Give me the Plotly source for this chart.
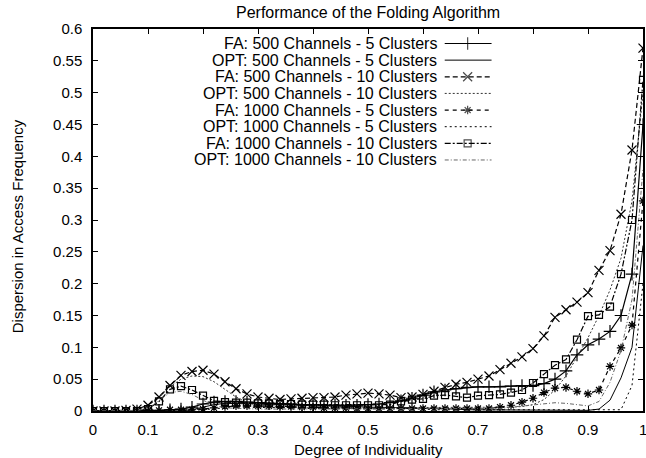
import plotly.graph_objects as go

# ---------------- data ----------------
x_vals = [0.00, 0.02, 0.04, 0.06, 0.08, 0.10, 0.12, 0.14, 0.16, 0.18,
          0.20, 0.22, 0.24, 0.26, 0.28, 0.30, 0.32, 0.34, 0.36, 0.38,
          0.40, 0.42, 0.44, 0.46, 0.48, 0.50, 0.52, 0.54, 0.56, 0.58,
          0.60, 0.62, 0.64, 0.66, 0.68, 0.70, 0.72, 0.74, 0.76, 0.78,
          0.80, 0.82, 0.84, 0.86, 0.88, 0.90, 0.92, 0.94, 0.96, 0.98, 1.00]

fa_500_5 = [0, 0, 0, 0, 0, 0.001, 0.001, 0.002, 0.003, 0.006,
            0.011, 0.014, 0.015, 0.015, 0.014, 0.013, 0.012, 0.011, 0.011, 0.010,
            0.010, 0.009, 0.009, 0.009, 0.009, 0.010, 0.011, 0.013, 0.016, 0.020,
            0.025, 0.030, 0.033, 0.035, 0.037, 0.038, 0.038, 0.038, 0.039, 0.040,
            0.040, 0.043, 0.050, 0.063, 0.088, 0.104, 0.113, 0.125, 0.150, 0.215, 0.450]

opt_500_5 = [0, 0, 0, 0, 0, 0, 0, 0, 0, 0.002,
             0.006, 0.010, 0.012, 0.012, 0.012, 0.011, 0.010, 0.010, 0.009, 0.009,
             0.008, 0.008, 0.007, 0.007, 0.007, 0.006, 0.006, 0.006, 0.005, 0.005,
             0.004, 0.004, 0.003, 0.003, 0.002, 0.002, 0.001, 0.001, 0.001, 0.001,
             0.001, 0.001, 0.001, 0.001, 0.001, 0.001, 0.003, 0.017, 0.052, 0.100, 0.260]

fa_500_10 = [0, 0, 0, 0.001, 0.003, 0.009, 0.022, 0.040, 0.056, 0.062,
             0.064, 0.058, 0.046, 0.035, 0.027, 0.022, 0.020, 0.018, 0.019, 0.020,
             0.021, 0.021, 0.022, 0.025, 0.027, 0.028, 0.027, 0.025, 0.021, 0.022,
             0.026, 0.031, 0.037, 0.042, 0.045, 0.050, 0.055, 0.065, 0.075, 0.085,
             0.098, 0.118, 0.147, 0.159, 0.171, 0.186, 0.221, 0.252, 0.309, 0.410, 0.570]

opt_500_10 = [0, 0, 0, 0, 0.002, 0.008, 0.022, 0.038, 0.050, 0.055,
              0.054, 0.046, 0.034, 0.022, 0.014, 0.009, 0.007, 0.006, 0.006, 0.005,
              0.005, 0.005, 0.005, 0.005, 0.005, 0.005, 0.005, 0.005, 0.005, 0.005,
              0.005, 0.005, 0.005, 0.005, 0.005, 0.005, 0.005, 0.005, 0.006, 0.007,
              0.010, 0.018, 0.033, 0.055, 0.085, 0.115, 0.150, 0.190, 0.240, 0.330, 0.500]

fa_1000_5 = [0, 0, 0, 0, 0, 0, 0.001, 0.002, 0.002, 0.002,
             0.003, 0.005, 0.007, 0.008, 0.008, 0.008, 0.008, 0.007, 0.007, 0.006,
             0.006, 0.005, 0.005, 0.005, 0.004, 0.004, 0.004, 0.004, 0.004, 0.004,
             0.004, 0.004, 0.004, 0.004, 0.004, 0.004, 0.004, 0.006, 0.009, 0.014,
             0.020, 0.029, 0.036, 0.037, 0.031, 0.027, 0.033, 0.070, 0.099, 0.135, 0.330]

opt_1000_5 = [0, 0, 0, 0, 0, 0, 0, 0, 0, 0.001,
              0.002, 0.004, 0.005, 0.006, 0.006, 0.006, 0.005, 0.005, 0.005, 0.004,
              0.004, 0.004, 0.004, 0.003, 0.003, 0.003, 0.003, 0.003, 0.003, 0.003,
              0.003, 0.002, 0.002, 0.002, 0.002, 0.002, 0.002, 0.002, 0.002, 0.002,
              0.002, 0.002, 0.002, 0.002, 0.001, 0.001, 0.001, 0.001, 0.002, 0.040, 0.200]

fa_1000_10 = [0, 0, 0, 0, 0, 0.003, 0.015, 0.034, 0.039, 0.033,
              0.024, 0.016, 0.014, 0.013, 0.013, 0.012, 0.012, 0.011, 0.011, 0.010,
              0.010, 0.010, 0.009, 0.009, 0.009, 0.009, 0.009, 0.010, 0.015, 0.018,
              0.019, 0.024, 0.025, 0.023, 0.021, 0.024, 0.025, 0.026, 0.029, 0.033,
              0.044, 0.058, 0.072, 0.081, 0.112, 0.149, 0.151, 0.164, 0.215, 0.300, 0.520]

opt_1000_10 = [0, 0, 0, 0, 0.001, 0.004, 0.016, 0.029, 0.031, 0.026,
               0.017, 0.009, 0.005, 0.004, 0.004, 0.003, 0.003, 0.003, 0.003, 0.003,
               0.003, 0.003, 0.003, 0.003, 0.003, 0.003, 0.003, 0.003, 0.003, 0.003,
               0.003, 0.003, 0.003, 0.003, 0.003, 0.003, 0.003, 0.004, 0.006, 0.008,
               0.010, 0.012, 0.013, 0.012, 0.010, 0.008, 0.015, 0.045, 0.095, 0.175, 0.380]

series_labels = ["FA: 500 Channels - 5 Clusters", "OPT: 500 Channels - 5 Clusters",
                 "FA: 500 Channels - 10 Clusters", "OPT: 500 Channels - 10 Clusters",
                 "FA: 1000 Channels - 5 Clusters", "OPT: 1000 Channels - 5 Clusters",
                 "FA: 1000 Channels - 10 Clusters", "OPT: 1000 Channels - 10 Clusters"]
series_values = [fa_500_5, opt_500_5, fa_500_10, opt_500_10,
                 fa_1000_5, opt_1000_5, fa_1000_10, opt_1000_10]

x_ticks = [0, 0.1, 0.2, 0.3, 0.4, 0.5, 0.6, 0.7, 0.8, 0.9, 1]
y_ticks = [0, 0.05, 0.1, 0.15, 0.2, 0.25, 0.3, 0.35, 0.4, 0.45, 0.5, 0.55, 0.6]

title_text = "Performance of the Folding Algorithm"
x_title = "Degree of Individuality"
y_title = "Dispersion in Access Frequency"

# ---------------- styles ----------------
styles = [
    dict(dash="solid", color="#000", width=1.2, symbol="cross-thin", msize=9),
    dict(dash="solid", color="#000", width=1.0, symbol=None, msize=0),
    dict(dash="5px,3px", color="#000", width=1.2, symbol="x-thin", msize=9),
    dict(dash="2px,2px", color="#333", width=1, symbol=None, msize=0),
    dict(dash="4px,4px", color="#000", width=1.2, symbol="asterisk", msize=7),
    dict(dash="2px,3px", color="#000", width=1, symbol=None, msize=0),
    dict(dash="6px,2px,2px,2px", color="#000", width=1.2, symbol="square-open", msize=7),
    dict(dash="4px,2px,1px,2px", color="#666", width=1, symbol=None, msize=0),
]

W, H = 646, 458
L, R, T, B = 93, 1, 29, 47
PW, PH = W - L - R, H - T - B
FONT = "Liberation Sans, Arial, Helvetica, sans-serif"


def px_to_x(px):
    return (px - L) / PW


def px_to_y(py):
    return (H - B - py) / PH


fig = go.Figure()

for vals, lab, st in zip(series_values, series_labels, styles):
    mode = "lines+markers" if st["symbol"] else "lines"
    marker = dict(symbol=st["symbol"], size=st["msize"], color="#000",
                  line=dict(color="#000", width=1.2)) if st["symbol"] else None
    fig.add_trace(go.Scatter(x=x_vals, y=vals, mode=mode, name=lab,
                             line=dict(color=st["color"], width=st["width"], dash=st["dash"]),
                             marker=marker, showlegend=False))

# ---------------- manual legend (text left, sample right, gnuplot style) ----------------
leg_text_right = 440
leg_x0, leg_x1, leg_xm = 446, 493, 469
leg_row0, leg_dy = 43.5, 16.64
annotations = []
for i, (lab, st) in enumerate(zip(series_labels, styles)):
    py = leg_row0 + i * leg_dy
    yy = px_to_y(py)
    annotations.append(dict(text=lab, x=px_to_x(leg_text_right), y=yy, xref="paper", yref="paper",
                            xanchor="right", yanchor="middle", showarrow=False,
                            font=dict(family=FONT, size=16, color="#000")))
    sizes = [0, st["msize"], 0] if st["symbol"] else [0, 0, 0]
    fig.add_trace(go.Scatter(
        x=[px_to_x(leg_x0), px_to_x(leg_xm), px_to_x(leg_x1)], y=[yy, yy, yy],
        xaxis="x2", yaxis="y2", mode="lines+markers" if st["symbol"] else "lines",
        line=dict(color=st["color"], width=st["width"], dash=st["dash"]),
        marker=dict(symbol=st["symbol"] or "circle", size=sizes, color="#000",
                    line=dict(color="#000", width=1.2)),
        showlegend=False, hoverinfo="skip"))

annotations.append(dict(text=title_text, x=0.5, y=px_to_y(12), xref="paper", yref="paper",
                        xanchor="center", yanchor="middle", showarrow=False,
                        font=dict(family=FONT, size=16, color="#000")))
annotations.append(dict(text=x_title, x=0.5, y=px_to_y(449), xref="paper", yref="paper",
                        xanchor="center", yanchor="middle", showarrow=False,
                        font=dict(family=FONT, size=15, color="#000")))
annotations.append(dict(text=y_title, x=px_to_x(17), y=px_to_y(226), xref="paper", yref="paper",
                        xanchor="center", yanchor="middle", textangle=-90, showarrow=False,
                        font=dict(family=FONT, size=15, color="#000")))
# last x tick label sits on the window edge, as in the reference
annotations.append(dict(text=str(x_ticks[-1]), x=x_ticks[-1], y=px_to_y(429), xref="x", yref="paper",
                        xanchor="center", yanchor="middle", showarrow=False,
                        font=dict(family=FONT, size=15, color="#000")))

axis_common = dict(showline=True, linecolor="#000", linewidth=1.5, mirror="ticks",
                   ticks="inside", ticklen=5, tickwidth=1, tickcolor="#000",
                   showgrid=False, zeroline=False,
                   tickfont=dict(family=FONT, size=15, color="#000"))

fig.update_layout(
    width=W, height=H,
    margin=dict(l=L, r=R, t=T, b=B, pad=0),
    paper_bgcolor="white", plot_bgcolor="white",
    showlegend=False,
    xaxis=dict(range=[0, 1], tickvals=x_ticks[:-1], ticktext=[str(v) for v in x_ticks[:-1]],
               ticklabelstandoff=4, **axis_common),
    yaxis=dict(range=[0, 0.6], tickvals=y_ticks, ticktext=[str(v) for v in y_ticks],
               ticklabelstandoff=6, **axis_common),
    xaxis2=dict(range=[0, 1], overlaying="x", visible=False, fixedrange=True),
    yaxis2=dict(range=[0, 1], overlaying="y", visible=False, fixedrange=True),
    annotations=annotations,
)

fig.write_html("out.html")
